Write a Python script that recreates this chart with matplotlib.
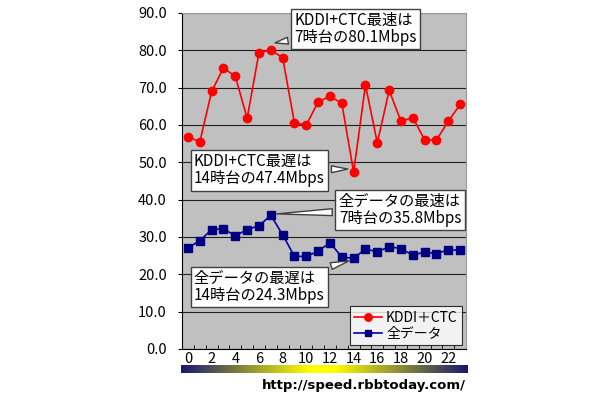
import numpy as np
import matplotlib
matplotlib.use("Agg")
import matplotlib.pyplot as plt
from matplotlib.colors import LinearSegmentedColormap

plt.rcParams["font.family"] = ["Noto Sans CJK JP", "DejaVu Sans"]

hours = list(range(24))
kddi_ctc = [56.8, 55.5, 69.0, 75.3, 73.0, 61.8, 79.4, 80.1, 78.0, 60.5, 60.0, 66.2,
            67.7, 65.8, 47.4, 70.7, 55.2, 69.3, 61.0, 62.0, 56.0, 56.0, 61.0, 65.5]
all_data = [27.1, 29.0, 32.0, 32.2, 30.3, 32.0, 33.0, 35.8, 30.6, 24.8, 24.8, 26.2,
            28.5, 24.6, 24.3, 26.8, 26.0, 27.4, 26.9, 25.1, 26.0, 25.5, 26.6, 26.4]
y_ticks = [0, 10, 20, 30, 40, 50, 60, 70, 80, 90]
x_labels = list(range(0, 24, 2))
series_names = ["KDDI＋CTC", "全データ"]

# callouts: text, point it refers to, left edge / centre of the text
callouts = [
    ("KDDI+CTC最速は\n7時台の80.1Mbps", (7.35, 82.0), (9.0, 85.7)),
    ("KDDI+CTC最遅は\n14時台の47.4Mbps", (13.5, 48.2), (0.5, 47.9)),
    ("全データの最速は\n7時台の35.8Mbps", (7.5, 36.2), (12.75, 37.2)),
    ("全データの最遅は\n14時台の24.3Mbps", (13.6, 23.6), (0.5, 16.6)),
]

fig = plt.figure(figsize=(6.1, 4.0), dpi=100)
ax = fig.add_axes([0.2985, 0.1275, 0.4655, 0.84])
ax.set_facecolor("#c0c0c0")

ax.plot(hours, kddi_ctc, color="#ff0000", lw=1.2, marker="o", ms=6,
        label=series_names[0], zorder=3)
ax.plot(hours, all_data, color="#0000b0", lw=1.2, marker="s", ms=5.2,
        mfc="#000080", mec="#000080", label=series_names[1], zorder=3)

ax.set_xlim(-0.5, 23.5)
ax.set_ylim(0, 90)
ax.set_yticks(y_ticks)
ax.set_yticklabels([f"{v:.1f}" for v in y_ticks], fontsize=10.5)
ax.yaxis.grid(True, color="#202020", lw=0.8)
ax.set_axisbelow(True)
ax.tick_params(axis="y", length=3, direction="out", pad=8)

ax.set_xticks(x_labels)
ax.set_xticklabels([str(v) for v in x_labels], fontsize=10.5)
ax.tick_params(axis="x", length=0, pad=2)
ax.set_xticks(np.arange(-0.5, 24, 1), minor=True)
ax.tick_params(axis="x", which="minor", length=3, direction="in", color="black")

for side in ["top", "right"]:
    ax.spines[side].set_color("#9a9a9a")
for side in ["left", "bottom"]:
    ax.spines[side].set_color("black")

for text, tip, anchor in callouts:
    ax.annotate(text, xy=tip, xytext=anchor, ha="left", va="center",
                fontsize=11, linespacing=1.0, zorder=5,
                bbox=dict(boxstyle="square,pad=0.22", fc="white", ec="#404040", lw=1),
                arrowprops=dict(arrowstyle="wedge,tail_width=0.45,shrink_factor=0.5",
                                fc="white", ec="#404040", lw=1, shrinkB=0))

leg = ax.legend(loc="lower right", fontsize=10, frameon=True, fancybox=False,
                borderaxespad=0.3, handlelength=2.0, borderpad=0.3,
                labelspacing=0.15, handletextpad=0.3, markerscale=0.9)
leg.get_frame().set_edgecolor("black")
leg.get_frame().set_linewidth(0.8)

# time-of-day colour bar
bar_ax = fig.add_axes([0.2967, 0.0675, 0.469, 0.021])
cmap = LinearSegmentedColormap.from_list(
    "day", [(0, "#1a1a6e"), (0.45, "#ffff00"), (0.53, "#ffff00"), (1, "#1a1a6e")])
bar_ax.imshow(np.linspace(0, 1, 300)[None, :], aspect="auto", cmap=cmap)
bar_ax.axis("off")

fig.text(0.764, 0.035, "http://speed.rbbtoday.com/", ha="right", va="center",
         fontsize=9.5, fontweight="bold", family="DejaVu Sans")

fig.savefig("out.png", dpi=100)
plt.close(fig)
